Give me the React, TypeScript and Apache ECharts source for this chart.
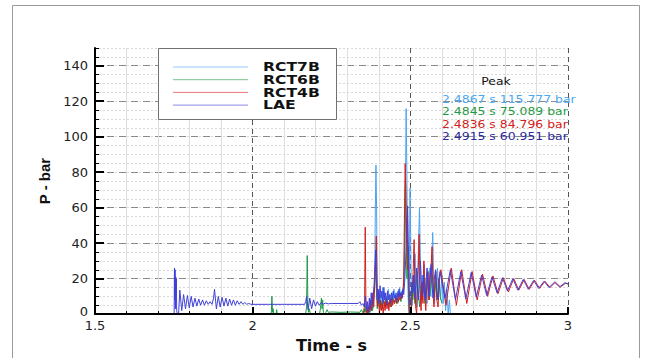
import React, { useEffect, useRef } from 'react';
import * as echarts from 'echarts';

const seriesNames = ['RCT7B', 'RCT6B', 'RCT4B', 'LAE'];
const seriesColors = ['#4aa3f2', '#1f9a45', '#d41c1c', '#4040d8'];
const peakTitle = 'Peak';
const peakLabels = ['2.4867 s 115.777 bar', '2.4845 s 75.089 bar', '2.4836 s 84.796 bar', '2.4915 s 60.951 bar'];
const peakColors = ['#4aa8f0', '#1f9a45', '#d42020', '#2a2a9a'];

const rct7b: [number, number][] = [
  [2.35, 0], [2.356, 2], [2.36, 6], [2.363, 1], [2.366, 5], [2.369, 0], [2.372, 7], [2.375, 2], [2.378, 9], [2.381, 3],
  [2.384, 11], [2.387, 20], [2.389, 60], [2.391, 84], [2.393, 60], [2.395, 20], [2.397, 6], [2.4, 14], [2.403, 4], [2.406, 11],
  [2.409, 5], [2.412, 15], [2.415, 7], [2.418, 12], [2.421, 4], [2.424, 10], [2.427, 6], [2.43, 14], [2.433, 8], [2.436, 11],
  [2.439, 5], [2.442, 12], [2.445, 8], [2.448, 14], [2.451, 9], [2.454, 12], [2.457, 7], [2.46, 13], [2.463, 9], [2.466, 15],
  [2.469, 10], [2.472, 13], [2.475, 9], [2.478, 16], [2.481, 24], [2.484, 60], [2.4867, 115.8], [2.489, 80], [2.491, 40], [2.493, 10],
  [2.495, 0], [2.497, 30], [2.499, 71], [2.501, 45], [2.503, 12], [2.506, 5], [2.509, 22], [2.512, 10], [2.515, 34], [2.518, 14],
  [2.521, 4], [2.524, 26], [2.529, 60], [2.532, 30], [2.535, 8], [2.538, 22], [2.541, 12], [2.544, 28], [2.547, 10], [2.55, 20],
  [2.553, 6], [2.556, 24], [2.559, 14], [2.562, 26], [2.565, 10], [2.568, 30], [2.571, 46], [2.574, 18], [2.577, 6], [2.58, 22],
  [2.583, 10], [2.586, 26], [2.589, 14], [2.592, 20], [2.596, 8], [2.6, 22], [2.604, 6], [2.608, 18], [2.612, 2], [2.616, 14],
  [2.62, 0], [2.624, 8], [2.627, 0], [2.63, 0]
];

const rct6b: [number, number][] = [
  [2.05, 0], [2.059, 0], [2.061, 10], [2.063, 1], [2.065, 3], [2.067, 0], [2.074, 0], [2.076, 2.5], [2.078, 0], [2.168, 0],
  [2.171, 4], [2.173, 33], [2.175, 6], [2.177, 1], [2.18, 3], [2.183, 0], [2.212, 0], [2.215, 3], [2.218, 9], [2.22, 3],
  [2.222, 8], [2.224, 1], [2.228, 0], [2.232, 1], [2.236, 2.5], [2.24, 1], [2.25, 1.2], [2.28, 1], [2.31, 1.2], [2.34, 1],
  [2.345, 2.5], [2.35, 0.5], [2.354, 3], [2.357, 1], [2.36, 5], [2.364, 0], [2.368, 4], [2.372, 1], [2.376, 6], [2.38, 2],
  [2.384, 9], [2.387, 16], [2.39, 30], [2.392, 14], [2.395, 3], [2.399, 8], [2.403, 2], [2.407, 7], [2.411, 3], [2.415, 8],
  [2.42, 4], [2.425, 9], [2.43, 5], [2.435, 8], [2.44, 4], [2.445, 9], [2.45, 6], [2.455, 10], [2.46, 6], [2.465, 9],
  [2.47, 7], [2.475, 11], [2.479, 16], [2.482, 40], [2.4845, 75.1], [2.487, 45], [2.489, 20], [2.492, 28], [2.495, 6], [2.498, 0],
  [2.502, 4], [2.505, 16], [2.508, 8], [2.511, 20], [2.514, 6], [2.518, 14], [2.522, 24], [2.526, 10], [2.53, 4], [2.534, 16],
  [2.538, 8], [2.542, 20], [2.546, 6], [2.55, 14], [2.555, 20], [2.56, 8], [2.565, 16], [2.57, 22], [2.575, 10], [2.58, 18],
  [2.585, 8], [2.59, 20], [2.595, 10], [2.6, 6]
];

const rct4b: [number, number][] = [
  [2.352, 0], [2.355, 6], [2.357, 49], [2.359, 8], [2.362, 0], [2.366, 4], [2.369, 1], [2.373, 8], [2.377, 2], [2.381, 12],
  [2.384, 4], [2.387, 18], [2.39, 30], [2.392, 44], [2.394, 20], [2.396, 4], [2.399, 10], [2.402, 0], [2.405, 8], [2.408, 2],
  [2.411, 6], [2.414, 0], [2.417, 7], [2.42, 2], [2.423, 9], [2.426, 3], [2.429, 7], [2.432, 2], [2.435, 8], [2.438, 4],
  [2.441, 9], [2.444, 5], [2.447, 8], [2.45, 6], [2.453, 10], [2.456, 6], [2.459, 9], [2.462, 7], [2.465, 11], [2.468, 8],
  [2.471, 12], [2.474, 9], [2.477, 13], [2.479, 20], [2.481, 50], [2.4836, 84.8], [2.486, 70], [2.488, 40], [2.49, 55], [2.492, 25],
  [2.494, 38], [2.496, 8], [2.498, 0], [2.503, 0], [2.506, 12], [2.509, 24], [2.512, 42], [2.514, 20], [2.517, 4], [2.52, 0],
  [2.523, 16], [2.526, 30], [2.528, 45], [2.531, 14], [2.534, 2], [2.537, 18], [2.54, 6], [2.543, 30], [2.546, 12], [2.549, 2],
  [2.552, 16], [2.556, 24], [2.559, 8], [2.562, 18], [2.566, 28], [2.569, 38], [2.572, 12], [2.575, 4], [2.578, 18], [2.581, 24],
  [2.584, 8], [2.588, 4], [2.592, 20], [2.597, 25], [2.613, 5], [2.63, 26], [2.646, 5], [2.663, 25], [2.679, 6], [2.696, 24],
  [2.712, 8], [2.729, 22.5], [2.745, 10], [2.762, 21.5], [2.778, 11.5], [2.795, 20.5], [2.811, 12.5], [2.828, 20], [2.844, 13.5], [2.861, 19.5],
  [2.877, 14], [2.894, 19], [2.91, 14.5], [2.927, 18.5], [2.943, 15], [2.96, 18], [2.976, 15.3], [2.993, 17.5], [3.0, 17]
];

const lae: [number, number][] = [
  [1.5, 0], [1.751, 0], [1.752, 26], [1.753, 8], [1.754, 25], [1.755, 3], [1.756, 21], [1.757, 12], [1.758, 20], [1.759, 2],
  [1.761, 0], [1.765, 0], [1.769, 13.5], [1.775, 2], [1.781, 11], [1.787, 3], [1.793, 10.5], [1.799, 3.5], [1.805, 10], [1.811, 4],
  [1.817, 9], [1.823, 4.5], [1.829, 8.5], [1.835, 5], [1.841, 8], [1.847, 5], [1.853, 7.5], [1.859, 5.5], [1.865, 7], [1.871, 5.5],
  [1.876, 9], [1.879, 14], [1.885, 3], [1.891, 10], [1.897, 4], [1.903, 9.5], [1.909, 4.5], [1.915, 9], [1.921, 4.5], [1.927, 8.5],
  [1.933, 5], [1.939, 8], [1.945, 5], [1.951, 7.5], [1.957, 5.5], [1.963, 7], [1.969, 5.5], [1.975, 6.5], [1.981, 5.5], [1.987, 6],
  [1.995, 5.5], [2.05, 5.5], [2.1, 5.5], [2.165, 5.5], [2.168, 7], [2.171, 10], [2.176, 2.5], [2.181, 9], [2.187, 3], [2.193, 8],
  [2.199, 4.5], [2.205, 7], [2.211, 5], [2.217, 6.5], [2.223, 5.5], [2.23, 6.2], [2.24, 5.8], [2.25, 6], [2.3, 6], [2.335, 6],
  [2.34, 7], [2.345, 5], [2.35, 6], [2.354, 4], [2.358, 10], [2.361, 2],
  [2.364, 7], [2.367, 1], [2.37, 9], [2.373, 3], [2.376, 12], [2.379, 5], [2.382, 10], [2.385, 16], [2.388, 28], [2.39, 36],
  [2.392, 20], [2.395, 8], [2.398, 14], [2.401, 6], [2.404, 16], [2.407, 9], [2.41, 13], [2.413, 6], [2.416, 15], [2.419, 8],
  [2.422, 12], [2.425, 5], [2.428, 13], [2.431, 8], [2.434, 11], [2.437, 6], [2.44, 12], [2.443, 8], [2.446, 13], [2.449, 9],
  [2.452, 11], [2.455, 7], [2.458, 12], [2.461, 9], [2.464, 14], [2.467, 10], [2.47, 12], [2.473, 9], [2.476, 14], [2.479, 11],
  [2.482, 18], [2.485, 30], [2.488, 45], [2.4915, 61], [2.494, 35], [2.496, 15], [2.499, 5], [2.502, 10], [2.505, 18], [2.508, 12],
  [2.511, 22], [2.514, 9], [2.517, 16], [2.52, 26], [2.523, 14], [2.526, 8], [2.529, 20], [2.532, 30], [2.535, 16], [2.538, 10],
  [2.541, 22], [2.544, 14], [2.547, 8], [2.55, 18], [2.553, 26], [2.556, 15], [2.559, 10], [2.562, 21], [2.566, 28], [2.569, 16],
  [2.572, 9], [2.576, 20], [2.58, 25], [2.584, 12], [2.588, 8], [2.591, 20], [2.594, 24], [2.61, 9], [2.627, 25], [2.643, 8],
  [2.66, 24], [2.676, 8.5], [2.693, 23.5], [2.709, 9.5], [2.726, 22], [2.742, 10.5], [2.759, 21], [2.775, 12], [2.792, 20.5], [2.808, 13],
  [2.825, 20], [2.841, 13.5], [2.858, 19.5], [2.874, 14], [2.891, 19], [2.907, 14.5], [2.924, 18.5], [2.94, 15], [2.957, 18], [2.973, 15.3],
  [2.99, 17.6], [3.0, 17]
];

const seriesData = [rct7b, rct6b, rct4b, lae];

const FONT = '"DejaVu Sans", "Liberation Sans", sans-serif';

export default function App() {
  const ref = useRef<HTMLDivElement>(null);
  useEffect(() => {
    if (!ref.current) return;
    const chart = echarts.init(ref.current, undefined, { renderer: 'svg' });
    const xBase = { type: 'value' as const, min: 1.5, max: 3, interval: 0.5, position: 'bottom' as const };
    const yBase = { type: 'value' as const, min: 0, max: 150, position: 'left' as const };
    const legendRows = [67, 79.7, 92.4, 105.1];
    const peakRows = [99, 111.5, 124, 136.5];
    chart.setOption({
      animation: false,
      backgroundColor: '#ffffff',
      grid: { left: 95, right: 84, top: 48, bottom: 35 },
      xAxis: [
        {
          ...xBase,
          axisLine: { show: false },
          axisTick: { show: false },
          axisLabel: { show: false },
          splitLine: { show: true, showMinLine: false, lineStyle: { color: '#555', type: [5, 4], width: 1 } },
          minorTick: { show: false, splitNumber: 5 },
          minorSplitLine: { show: true, lineStyle: { color: '#dedede', width: 1 } },
        },
        {
          ...xBase,
          z: 5,
          axisLine: { show: true, onZero: false, lineStyle: { color: '#000', width: 2 } },
          axisTick: { show: true, inside: true, length: 7, lineStyle: { color: '#000', width: 2 } },
          minorTick: { show: true, splitNumber: 5, length: 3, lineStyle: { color: '#000', width: 1 } },
          axisLabel: { show: true, margin: 5, fontFamily: FONT, fontSize: 13, color: '#222' },
          splitLine: { show: false },
          name: 'Time - s',
          nameLocation: 'middle',
          nameGap: 11,
          nameTextStyle: { fontFamily: FONT, fontWeight: 'bold', fontSize: 16, color: '#111', verticalAlign: 'top' },
        },
      ],
      yAxis: [
        {
          ...yBase,
          interval: 5,
          axisLine: { show: false },
          axisTick: { show: true, inside: true, length: 4, lineStyle: { color: '#000', width: 1 } },
          axisLabel: { show: false },
          splitLine: { show: true, showMinLine: false, lineStyle: { color: '#d8d8d8', type: [2, 2], width: 1 } },
        },
        {
          ...yBase,
          interval: 20,
          axisLine: { show: false },
          axisTick: { show: false },
          axisLabel: { show: false },
          splitLine: { show: true, showMinLine: false, showMaxLine: false, lineStyle: { color: '#8a8a8a', type: [7, 5], width: 1 } },
        },
        {
          ...yBase,
          interval: 20,
          z: 5,
          axisLine: { show: true, onZero: false, lineStyle: { color: '#000', width: 2 } },
          axisTick: { show: true, inside: true, length: 9, lineStyle: { color: '#000', width: 2 } },
          axisLabel: {
            show: true,
            margin: 7,
            showMaxLabel: false,
            fontFamily: FONT,
            fontSize: 13,
            color: '#222',
            formatter: (v: number) => (v === 0 ? '{z|0}' : String(v)),
            rich: { z: { fontFamily: FONT, fontSize: 13, color: '#222', padding: [0, 0, 5, 0] } },
          },
          splitLine: { show: false },
          name: 'P - bar',
          nameLocation: 'middle',
          nameGap: 35,
          nameTextStyle: { fontFamily: '"Liberation Sans", Arial, sans-serif', fontWeight: 'bold', fontSize: 15, color: '#111' },
        },
      ],
      series: seriesNames.map((name, i) => ({
        name,
        type: 'line',
        xAxisIndex: 0,
        yAxisIndex: 0,
        data: seriesData[i],
        showSymbol: false,
        symbol: 'none',
        color: seriesColors[i],
        lineStyle: { width: 1, color: seriesColors[i] },
        clip: true,
      })),
      graphic: [
        {
          type: 'rect',
          z: 0,
          shape: { x: 12.5, y: 5.5, width: 627, height: 400 },
          style: { fill: 'none', stroke: '#9a9a9a', lineWidth: 1 },
          silent: true,
        },
        {
          type: 'rect',
          z: 20,
          shape: { x: 158.5, y: 48.5, width: 178, height: 71 },
          style: { fill: '#ffffff', stroke: '#707070', lineWidth: 1 },
          silent: true,
        },
        ...seriesNames.map((n, i) => ({
          type: 'line',
          z: 21,
          shape: { x1: 173, y1: legendRows[i], x2: 248, y2: legendRows[i] },
          style: { stroke: seriesColors[i], lineWidth: 1, opacity: 0.6 },
          silent: true,
        })),
        ...seriesNames.map((n, i) => ({
          type: 'text',
          z: 21,
          x: 263,
          y: legendRows[i],
          scaleX: 1.3,
          style: { text: n, font: `bold 12px ${FONT}`, fill: '#111', align: 'left', verticalAlign: 'middle' },
        })),
        {
          type: 'text',
          z: 10,
          x: 496,
          y: 81,
          scaleX: 1.13,
          style: { text: peakTitle, font: `11px ${FONT}`, fill: '#111', align: 'center', verticalAlign: 'middle' },
        },
        ...peakLabels.map((t, i) => ({
          type: 'text',
          z: 10,
          x: 442,
          y: peakRows[i],
          scaleX: 1.13,
          style: { text: t, font: `11px ${FONT}`, fill: peakColors[i], align: 'left', verticalAlign: 'middle' },
        })),
      ],
    });
    return () => chart.dispose();
  }, []);
  return <div ref={ref} style={{ position: 'fixed', left: 0, top: 0, width: 652, height: 358 }} />;
}
